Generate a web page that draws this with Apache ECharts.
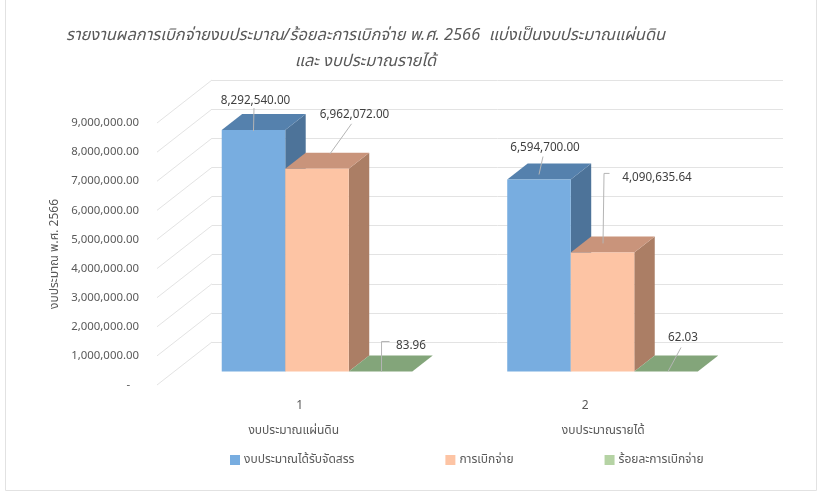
<!DOCTYPE html>
<html><head><meta charset="utf-8">
<style>html,body{margin:0;padding:0;background:#fff}#c{width:819px;height:496px}</style>
<script src="https://cdn.jsdelivr.net/npm/echarts@6/dist/echarts.min.js"></script></head>
<body><div id="c"></div>
<script>
const categories = ['1','2'];
const categoryNames = ['งบประมาณแผ่นดิน','งบประมาณรายได้'];
const seriesNames = ['งบประมาณได้รับจัดสรร','การเบิกจ่าย','ร้อยละการเบิกจ่าย'];
const allocated = [8292540.00, 6594700.00];
const disbursed = [6962072.00, 4090635.64];
const percent = [83.96, 62.03];
const valueTicks = [0,1000000,2000000,3000000,4000000,5000000,6000000,7000000,8000000,9000000];
const titleLines = ['รายงานผลการเบิกจ่ายงบประมาณ/ร้อยละการเบิกจ่าย พ.ศ. 2566  แบ่งเป็นงบประมาณแผ่นดิน','และ งบประมาณรายได้'];
const yTitle = 'งบประมาณ พ.ศ. 2566';

const FONT = '"Noto Sans","Noto Sans Thai",Tahoma,"DejaVu Sans",sans-serif';
const GREY = '#595959';
const DEPTH = [55,-43];        // front plane to back wall
const F0 = 0.314, FD = 0.372;  // bar start and bar depth, as shares of DEPTH
const BAR = 0.2225;            // bar width as share of a band
const faces = [
  {front:'#78ADE0', top:'#5581AD', side:'#4D7399'},
  {front:'#FDC4A4', top:'#C9947B', side:'#AB7E65'},
  {front:'#B5D3A4', top:'#83A57A', side:'#6F8F68'}
];
const seriesData = [allocated, disbursed, percent];
// label centre and leader polyline, in px relative to each bar's front-top centre
const labelLook = [
  [{t:[2,-29],l:[[0.5,-22],[0,1]]},   {t:[6,-32],l:[[4,-23],[0,-5]]}],
  [{t:[37.5,-54],l:[[34.5,-45],[13,-15]]}, {t:[54.5,-75],l:[[7,-79],[1.5,-79],[0.5,-9]]}],
  [{t:[30.5,-26],l:[[9,-30],[1,-30],[1,0]]}, {t:[17,-34],l:[[15,-24],[2,0]]}]
];

function fmt(v){
  return v.toLocaleString('en-US',{minimumFractionDigits:2,maximumFractionDigits:2});
}
function geom(api,cat,si,val){
  const w = api.size([1,0])[0]*BAR;
  const base = api.coord([cat,0]), top = api.coord([cat,val]);
  const sx = DEPTH[0]*F0, sy = DEPTH[1]*F0;
  const x0 = base[0]+sx+(si-1.5)*w, x1 = x0+w;
  return {x0,x1,yb:base[1]+sy,yt:top[1]+sy,dx:DEPTH[0]*FD,dy:DEPTH[1]*FD,w};
}
function barSeries(si){
  return {
    type:'custom', name:seriesNames[si], xAxisIndex:0, yAxisIndex:0, z:5+si,
    itemStyle:{color:faces[si].front}, silent:true,
    data:categories.map((c,i)=>[i,seriesData[si][i]]),
    renderItem(p,api){
      const g = geom(api,api.value(0),si,api.value(1));
      const f = faces[si];
      return {type:'group',children:[
        {type:'polygon',shape:{points:[[g.x1,g.yb],[g.x1+g.dx,g.yb+g.dy],[g.x1+g.dx,g.yt+g.dy],[g.x1,g.yt]]},style:{fill:f.side}},
        {type:'polygon',shape:{points:[[g.x0,g.yt],[g.x1,g.yt],[g.x1+g.dx,g.yt+g.dy],[g.x0+g.dx,g.yt+g.dy]]},style:{fill:f.top}},
        {type:'rect',shape:{x:g.x0,y:g.yt,width:g.w,height:g.yb-g.yt},style:{fill:f.front}}
      ]};
    }
  };
}
const labelRows = [];
seriesData.forEach((arr,si)=>arr.forEach((v,i)=>labelRows.push([i,v,si])));

const option = {
  animation:false,
  backgroundColor:'#fff',
  graphic:[
    {type:'rect',silent:true,z:0,shape:{x:5.5,y:-5,width:811,height:495.5},style:{fill:'none',stroke:'#e2e2e2',lineWidth:1}},
    {type:'text',z:10,style:{x:365.5,y:35,text:titleLines[0],textAlign:'center',textVerticalAlign:'middle',fill:GREY,font:'italic 16.4px '+FONT}},
    {type:'text',z:10,style:{x:365.5,y:61,text:titleLines[1],textAlign:'center',textVerticalAlign:'middle',fill:GREY,font:'italic 16.4px '+FONT}}
  ],
  legend:{left:225,top:449,itemWidth:10,itemHeight:10,itemGap:91,icon:'rect',selectedMode:false,
    data:seriesNames,textStyle:{color:GREY,fontSize:12,fontFamily:FONT,padding:[0,0,0,-1]}},
  grid:[
    {left:157,right:91,top:123,bottom:111},
    {left:212,right:36,top:80,bottom:154}
  ],
  xAxis:[
    {type:'category',gridIndex:0,data:categories,axisLine:{show:false},axisTick:{show:false},
      axisLabel:{color:GREY,fontSize:12,fontFamily:FONT,margin:15}},
    {type:'category',gridIndex:1,data:categories,show:false}
  ],
  yAxis:[
    {type:'value',gridIndex:0,min:0,max:9000000,interval:1000000,splitLine:{show:false},axisLine:{show:false},axisTick:{show:false},
      name:yTitle,nameLocation:'middle',nameGap:85,nameRotate:90,nameTextStyle:{color:GREY,fontSize:12,fontFamily:FONT},
      axisLabel:{color:GREY,fontSize:11.4,fontFamily:FONT,margin:18,padding:[5,0,0,0],formatter:v=>v===0?'-   ':fmt(v)}},
    {type:'value',gridIndex:1,min:0,max:9000000,interval:1000000,axisLine:{show:false},axisTick:{show:false},axisLabel:{show:false},
      splitLine:{show:true,lineStyle:{color:'#e3e3e3',width:1}}}
  ],
  series:[
    {type:'custom',name:'depth',xAxisIndex:0,yAxisIndex:0,z:2,silent:true,
      data:valueTicks.map(v=>[0,v]),
      renderItem(p,api){
        const a = api.coord([api.value(0),api.value(1)]);
        const x = p.coordSys.x;
        return {type:'line',shape:{x1:x,y1:a[1],x2:x+DEPTH[0],y2:a[1]+DEPTH[1]},style:{stroke:'#e3e3e3',lineWidth:1,fill:null}};
      }},
    barSeries(0),barSeries(1),barSeries(2),
    {type:'custom',name:'labels',xAxisIndex:0,yAxisIndex:0,z:20,silent:true,
      data:labelRows,
      renderItem(p,api){
        const cat=api.value(0), v=api.value(1), si=api.value(2);
        const g=geom(api,cat,si,v);
        const ax=(g.x0+g.x1)/2, ay=g.yt;
        const look=labelLook[si][cat];
        return {type:'group',children:[
          {type:'polyline',shape:{points:look.l.map(q=>[ax+q[0],ay+q[1]])},style:{stroke:'#b5b5b5',lineWidth:1,fill:null}},
          {type:'text',style:{x:ax+look.t[0],y:ay+look.t[1],text:fmt(v),textAlign:'center',textVerticalAlign:'middle',fill:'#404040',font:'11.7px '+FONT}}
        ]};
      }},
    {type:'custom',name:'names',xAxisIndex:0,yAxisIndex:0,z:10,silent:true,
      data:categories.map((c,i)=>[i]),
      renderItem(p,api){
        const i=api.value(0);
        const a=api.coord([i,0]);
        return {type:'text',style:{x:a[0]+(i===0?-6:18),y:a[1]+46,text:categoryNames[i],textAlign:'center',textVerticalAlign:'middle',fill:GREY,font:'12px '+FONT}};
      }}
  ]
};
echarts.init(document.getElementById('c'),null,{renderer:'canvas'}).setOption(option);
</script></body></html>
